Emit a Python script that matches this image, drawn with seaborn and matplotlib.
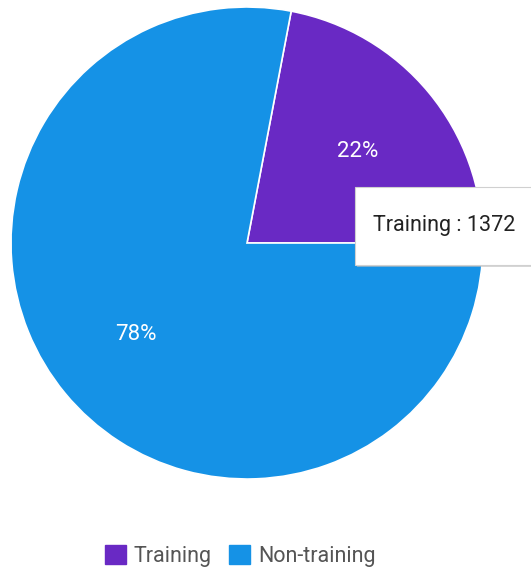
import matplotlib
matplotlib.use("Agg")
import matplotlib.pyplot as plt
import matplotlib.patches as mpatches
import seaborn as sns

# data
labels = ["Training", "Non-training"]
counts = [1372, 4864]
colors = ["#6929c4", "#1592e6"]
tooltip = "Training : 1372"

sns.set_style("white")
plt.rcParams['font.family'] = ['Roboto', 'DejaVu Sans']
sns.set_palette(colors)

fig = plt.figure(figsize=(5.31, 5.70), dpi=100)
ax = fig.add_axes([0, 0, 1, 1])

# pie, training slice starts at 3 o'clock going counter-clockwise
wedges, texts, autotexts = ax.pie(
    counts, colors=sns.color_palette(), startangle=0, counterclock=True,
    center=(247, 327), radius=236, autopct="%1.0f%%", pctdistance=0.61,
    wedgeprops=dict(edgecolor="white", linewidth=1.2),
    textprops=dict(color="white", fontsize=16))
ax.set_xlim(0, 531)
ax.set_ylim(0, 570)
ax.set_aspect("equal")
ax.axis("off")

# hover tooltip box (with soft shadow)
shadow = mpatches.Rectangle((357, 570 - 267), 180, 79, facecolor="#bdbdbd",
                            edgecolor="none", alpha=0.6, zorder=5)
box = mpatches.Rectangle((355, 570 - 265), 180, 78, facecolor="white",
                         edgecolor="#d0d0d0", linewidth=0.8, zorder=6)
ax.add_patch(shadow)
ax.add_patch(box)
ax.text(373, 570 - 231, tooltip, fontsize=15.5, color="#222222",
        va="baseline", ha="left", zorder=7)

# legend at bottom
handles = [mpatches.Patch(color=c, label=l) for c, l in zip(colors, labels)]
fig.legend(handles=handles, loc="center", bbox_to_anchor=(240 / 531, 1 - 556 / 570),
           ncol=2, frameon=False, fontsize=15.5, handlelength=1.0, handleheight=1.0,
           handletextpad=0.35, columnspacing=0.8, labelcolor="#555555")

fig.savefig("out.png", dpi=100)
